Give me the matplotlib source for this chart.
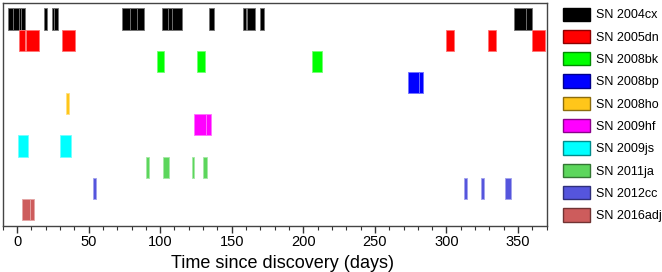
import matplotlib
matplotlib.use("Agg")
import matplotlib.pyplot as plt
import matplotlib.patches as mpatches
from matplotlib.colors import to_rgb
import numpy as np

plt.rcParams['font.family'] = ['Liberation Sans', 'DejaVu Sans']

names = ["SN 2004cx", "SN 2005dn", "SN 2008bk", "SN 2008bp", "SN 2008ho",
         "SN 2009hf", "SN 2009js", "SN 2011ja", "SN 2012cc", "SN 2016adj"]
colors = ["#000000", "#ff0000", "#00ff00", "#0000ff", "#ffc61a",
          "#ff00ff", "#00ffff", "#5cd65c", "#5555dd", "#cd5c5c"]

sn2004cx = [(-6.3, -3.1), (-3.1, 1.1), (1.1, 3.0), (3.0, 5.3), (18.6, 20.9),
            (24.4, 25.8), (25.8, 28.6), (73.3, 79.1), (79.1, 83.7), (83.7, 89.0),
            (101.2, 105.8), (105.8, 108.2), (108.2, 115.1), (134.2, 137.9),
            (158.1, 159.8), (160.5, 166.3), (169.8, 172.6), (347.3, 355.9),
            (355.9, 359.4)]
sn2005dn = [(1.6, 5.8), (6.3, 15.6), (31.4, 40.2), (300.0, 305.4),
            (329.1, 334.3), (359.4, 368.7)]
sn2008bk = [(97.7, 102.8), (125.6, 131.4), (206.3, 212.8)]
sn2008bp = [(273.3, 280.9), (280.9, 283.3)]
sn2008ho = [(34.4, 36.3)]
sn2009hf = [(123.9, 131.9), (131.9, 135.4)]
sn2009js = [(0.7, 7.7), (30.2, 37.4)]
sn2011ja = [(90.2, 92.5), (102.3, 106.3), (122.1, 123.9), (130.2, 133.0)]
sn2012cc = [(53.0, 55.3), (312.1, 314.0), (324.0, 325.9), (341.0, 345.1)]
sn2016adj = [(3.5, 9.3), (9.3, 11.6)]

intervals = [sn2004cx, sn2005dn, sn2008bk, sn2008bp, sn2008ho,
             sn2009hf, sn2009js, sn2011ja, sn2012cc, sn2016adj]

xticks = [0, 50, 100, 150, 200, 250, 300, 350]


def mix(c, other, f):
    a = np.array(to_rgb(c))
    b = np.array(to_rgb(other))
    return tuple(a * (1 - f) + b * f)


fig = plt.figure(figsize=(6.62, 2.72), dpi=100)
ax = fig.add_axes([0.0041, 0.1702, 0.8217, 0.8198])

for i, (ivs, c) in enumerate(zip(intervals, colors)):
    segs = [(s, e - s) for s, e in ivs]
    ax.broken_barh(segs, (i, 1), facecolors=c, edgecolors=mix(c, "white", 0.45),
                   linewidth=0.6)

ax.set_xlim(-10, 370)
ax.set_ylim(10.27, -0.27)
ax.set_yticks([])
ax.set_xticks(xticks)
ax.set_xticks(np.arange(-10, 371, 10), minor=True)
ax.tick_params(axis='x', which='major', length=5, width=1, labelsize=10.5, pad=2,
               color='#333333')
ax.tick_params(axis='x', which='minor', length=3, width=0.8, color='#333333')
for sp in ax.spines.values():
    sp.set_color('#444444')
    sp.set_linewidth(1)
ax.set_xlabel("Time since discovery (days)", fontsize=13, labelpad=3)
ax.xaxis.set_label_coords(0.514, -0.13)

handles = [mpatches.Patch(facecolor=c, edgecolor=mix(c, "black", 0.45), linewidth=1,
                          label=n) for n, c in zip(names, colors)]
fig.legend(handles=handles, loc='upper left',
           bbox_to_anchor=(563 / 662, 1 - 7.5 / 272), frameon=False,
           borderpad=0, borderaxespad=0, fontsize=9, handlelength=2.16,
           handleheight=1.25, labelspacing=0.68, handletextpad=0.45)

fig.savefig("out.png", dpi=100)
